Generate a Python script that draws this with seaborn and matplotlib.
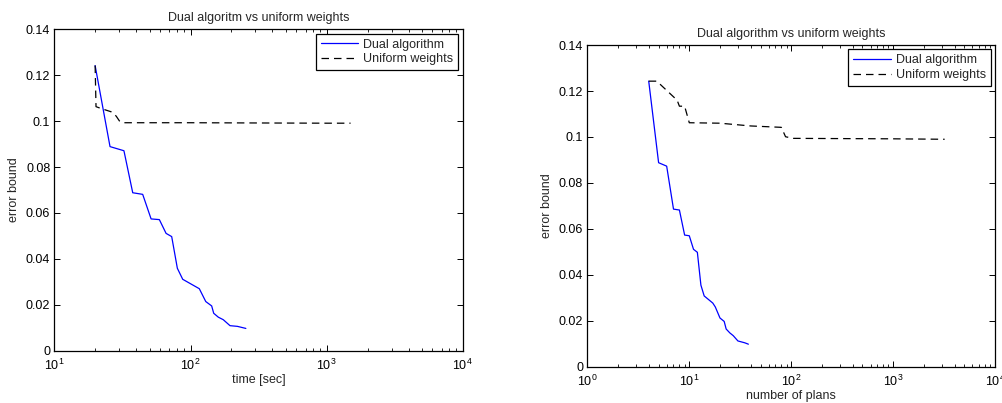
import matplotlib
matplotlib.use("Agg")
import matplotlib.pyplot as plt
import matplotlib.ticker as mticker
import numpy as np
import pandas as pd
import seaborn as sns

# Error bound versus running time
time_dual = [19.9, 25.6, 32.4, 37.6, 44.5, 51.3, 59.0, 66.1, 72.7, 80.0, 87.6,
             116.0, 129.4, 143.0, 148.0, 160.0, 174.0, 195.0, 221.0, 255.0]
err_dual_time = [0.1242, 0.0889, 0.0871, 0.0688, 0.0681, 0.0574, 0.0571, 0.0511,
                 0.0497, 0.0359, 0.0311, 0.0270, 0.0214, 0.0195, 0.0163, 0.0146,
                 0.0135, 0.0109, 0.0106, 0.0097]

time_unif = [19.9, 20.2, 22.0, 26.0, 28.4, 30.0, 31.5, 100.0, 300.0, 1000.0, 1500.0]
err_unif_time = [0.1242, 0.1063, 0.1055, 0.1041, 0.1022, 0.1001, 0.0993, 0.0993,
                 0.0992, 0.0991, 0.0991]

# Error bound versus number of plans
plans_dual = [4, 5, 6, 7, 8, 9, 10, 11, 12, 13, 14, 17, 18, 20, 22, 23, 25, 27,
              30, 35, 38]
err_dual_plans = [0.1243, 0.0888, 0.0873, 0.0686, 0.0682, 0.0573, 0.0570, 0.0511,
                  0.0498, 0.0355, 0.0308, 0.0277, 0.0260, 0.0212, 0.0197, 0.0164,
                  0.0147, 0.0135, 0.0112, 0.0104, 0.0098]

plans_unif = [4, 4.8, 7.6, 8, 9, 10, 20, 40, 80, 88, 105, 300, 1000, 3200]
err_unif_plans = [0.1243, 0.1243, 0.1160, 0.1134, 0.1134, 0.1062, 0.1060, 0.1048,
                  0.1042, 0.1001, 0.0994, 0.0993, 0.0992, 0.0990]

titles = ["Dual algoritm vs uniform weights", "Dual algorithm vs uniform weights"]
xlabels = ["time [sec]", "number of plans"]
ylabel = "error bound"
legend_labels = ["Dual algorithm", "Uniform weights"]
yticks = [0, 0.02, 0.04, 0.06, 0.08, 0.1, 0.12, 0.14]

sns.set_style("ticks")
plt.rcParams["font.family"] = ["Liberation Sans", "DejaVu Sans"]
plt.rcParams["mathtext.default"] = "regular"

fig = plt.figure(figsize=(10.03, 4.03), dpi=100)
ax1 = fig.add_axes([0.0543, 0.1298, 0.407, 0.7975])
ax2 = fig.add_axes([0.5856, 0.0901, 0.4065, 0.798])

panels = [
    (ax1, time_dual, err_dual_time, time_unif, err_unif_time, (10, 1e4)),
    (ax2, plans_dual, err_dual_plans, plans_unif, err_unif_plans, (1, 1e4)),
]

for i, (ax, xd, yd, xu, yu, xlim) in enumerate(panels):
    dual = pd.DataFrame({"x": xd, "y": yd})
    unif = pd.DataFrame({"x": xu, "y": yu})
    sns.lineplot(data=dual, x="x", y="y", ax=ax, color="#0000ff", lw=0.9,
                 sort=False, estimator=None, label=legend_labels[0])
    sns.lineplot(data=unif, x="x", y="y", ax=ax, color="black", lw=0.9,
                 sort=False, estimator=None, label=legend_labels[1],
                 linestyle=(0, (6, 4)))
    ax.set_xscale("log")
    ax.set_xlim(*xlim)
    ax.set_ylim(0, 0.14)
    ax.set_yticks(yticks)
    ax.yaxis.set_major_formatter(mticker.FuncFormatter(lambda v, p: "%g" % v))
    ax.xaxis.set_minor_locator(mticker.LogLocator(base=10, subs=np.arange(2, 10), numticks=20))
    ax.xaxis.set_minor_formatter(mticker.NullFormatter())
    for s in ax.spines.values():
        s.set_visible(True)
        s.set_linewidth(0.9)
        s.set_color("black")
    ax.tick_params(which="both", direction="in", top=True, right=True,
                   colors="black", labelsize=9)
    ax.tick_params(which="major", length=4, width=0.7)
    ax.tick_params(which="minor", length=2.2, width=0.6)
    ax.tick_params(axis="x", which="major", pad=5)
    ax.tick_params(axis="y", which="major", pad=3)
    ax.set_title(titles[i], fontsize=9, pad=6)
    ax.set_xlabel(xlabels[i], fontsize=9, labelpad=1)
    ax.set_ylabel(ylabel, fontsize=9, labelpad=4)
    leg = ax.legend(loc="upper right", fontsize=9, frameon=True, fancybox=False,
                    framealpha=1, edgecolor="black", borderpad=0.4,
                    handlelength=3.0, handletextpad=0.4, labelspacing=0.2,
                    borderaxespad=0.35)
    leg.get_frame().set_linewidth(0.9)

fig.savefig("out.png", dpi=100)
